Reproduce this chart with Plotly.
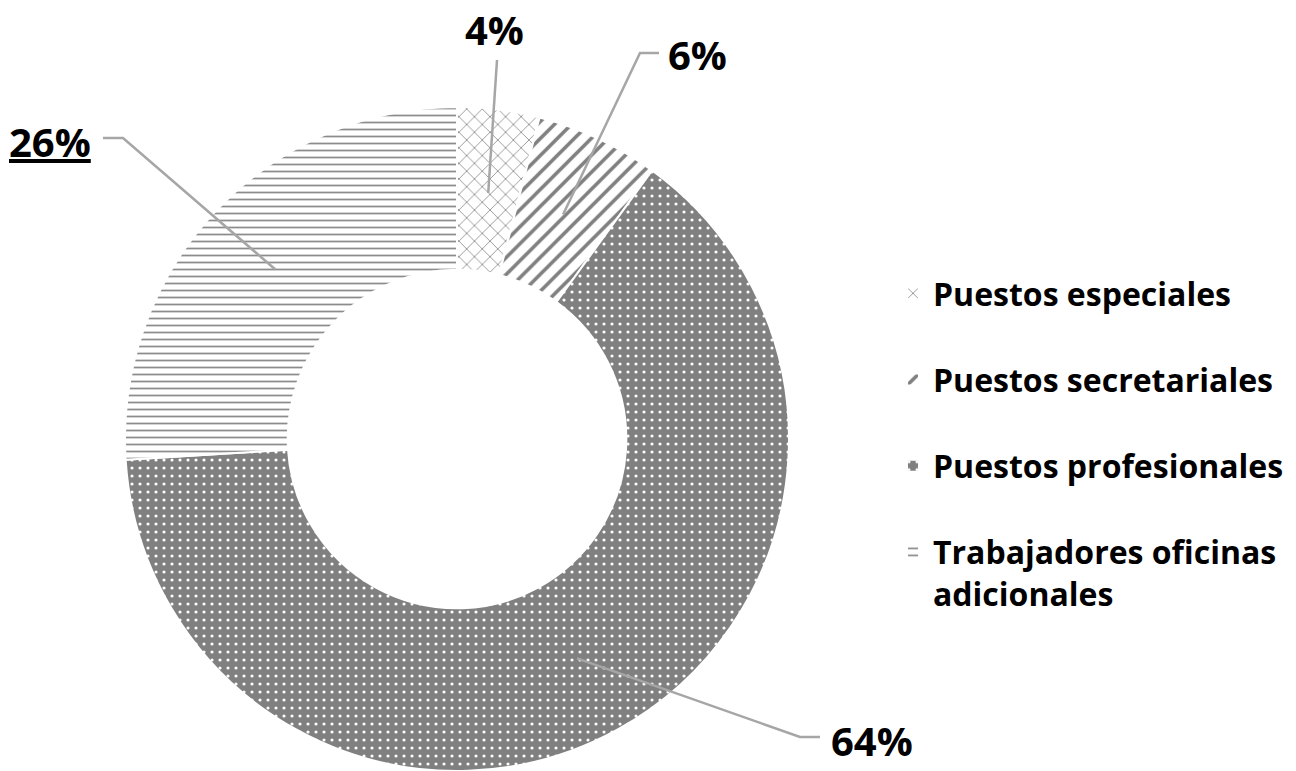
import numpy as np
import plotly.graph_objects as go

# ---- data ----
categories = ["Puestos especiales", "Puestos secretariales",
              "Puestos profesionales", "Trabajadores oficinas adicionales"]
values = [4, 6, 64, 26]
pct_labels = ["4%", "6%", "64%", "<u>26%</u>"]

# ---- layout constants (pixels) ----
W, H = 1296, 771
CX, CY, R = 457, 440, 333
HOLE = 0.51
FONT = "Open Sans"

def px(x):
    return x / W

def py(y):
    return 1 - y / H

legend_text = ["Puestos especiales<br> ", "Puestos secretariales<br> ",
               "Puestos profesionales<br> ", "Trabajadores oficinas<br>adicionales"]

fig = go.Figure(go.Pie(
    labels=legend_text,
    values=values,
    sort=False,
    direction="clockwise",
    rotation=0,
    hole=HOLE,
    textinfo="none",
    hovertext=categories,
    hoverinfo="text+percent",
    domain=dict(x=[px(CX - R), px(CX + R)], y=[max(0.0, py(CY + R)), py(CY - R)]),
    marker=dict(
        colors=["#ffffff", "#ffffff", "#808080", "#ffffff"],
        line=dict(color="#ffffff", width=2),
        pattern=dict(
            shape=["x", "/", ".", "-"],
            fgcolor=["#8c8c8c", "#808080", "#ffffff", "#8c8c8c"],
            bgcolor=["#ffffff", "#ffffff", "#808080", "#ffffff"],
            size=[11, 12, 8, 7],
            solidity=[0.15, 0.3, 0.12, 0.25],
            fillmode="replace",
        ),
    ),
))

# leader lines and percentage labels
total = sum(values)
cum = np.cumsum(values)
mids = (cum - np.array(values) / 2) / total * 2 * np.pi
r_mid = 330 * (1 + HOLE) / 2
routes = [
    [(497, 60)],
    [(640, 53), (659, 53)],
    [(800, 737), (820, 737)],
    [(123, 138), (103, 138)],
]
label_pos = [
    (495, 30, "center"),
    (666, 55, "left"),
    (829, 740, "left"),
    (7, 141, "left"),
]
shapes = []
annotations = []
for i, th in enumerate(mids):
    sx = CX + r_mid * np.sin(th)
    sy = CY - r_mid * np.cos(th)
    pts = [(sx, sy)] + routes[i]
    path = "M " + " L ".join(f"{px(x):.5f},{py(y):.5f}" for x, y in pts)
    shapes.append(dict(type="path", path=path, xref="paper", yref="paper",
                       line=dict(color="#a6a6a6", width=2.5)))
    lx, ly, anc = label_pos[i]
    annotations.append(dict(x=px(lx), y=py(ly), xref="paper", yref="paper",
                            text=pct_labels[i], showarrow=False,
                            xanchor=anc, yanchor="middle",
                            font=dict(family=FONT, size=40, color="#000000", weight="bold")))

fig.update_layout(
    width=W, height=H,
    margin=dict(l=0, r=0, t=0, b=0),
    paper_bgcolor="#ffffff",
    plot_bgcolor="#ffffff",
    shapes=shapes,
    annotations=annotations,
    showlegend=True,
    legend=dict(
        x=px(893), y=py(266), xanchor="left", yanchor="top",
        font=dict(family=FONT, size=32, color="#000000", weight="bold"),
        valign="top",
        bgcolor="rgba(0,0,0,0)",
    ),
)

fig.write_html("out.html", config={"displayModeBar": False},
               post_script="document.body.style.margin='0px';")
